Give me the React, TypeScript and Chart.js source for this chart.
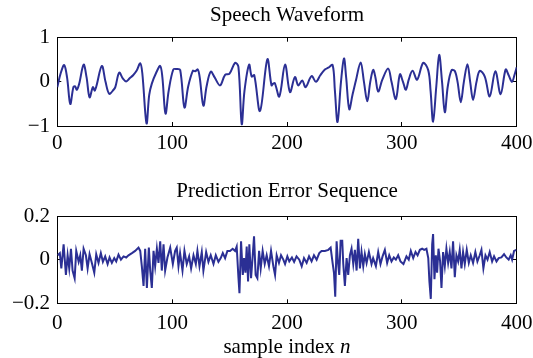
import React, { useEffect, useRef } from "react";
import { Chart, registerables } from "chart.js";
Chart.register(...registerables);

// ---- Data ----
const speechN = [0, 3, 6, 8.5, 11.3, 14, 15.5, 17, 19, 22.9, 25.5, 28.1, 31, 32.5, 34, 38.8, 42, 45.2, 49, 50.5, 53.9, 57, 60, 63, 66, 69, 72.2, 74, 77.7, 80, 82.3, 86, 89.6, 91.5, 94.2, 97, 101, 104, 107, 110.7, 114, 118, 120, 122.3, 124, 127.2, 130, 133.6, 137, 141.7, 146.1, 149.8, 154.8, 157.7, 160.6, 163, 167, 169.3, 171.5, 176.5, 182.9, 186.5, 188, 189.4, 193.3, 198.3, 202.6, 206.9, 209.8, 213.3, 216.2, 221.4, 225.2, 229, 233, 236, 239.7, 241.7, 244, 247, 249.6, 251.5, 254.2, 257, 260, 264.1, 267, 269.9, 272.5, 275, 277, 279.4, 283, 288.1, 291, 294.8, 298.3, 301, 303.5, 306, 309.3, 313.3, 318.6, 323, 325, 327.2, 330, 332.5, 335, 337.4, 340, 343.2, 346, 348.5, 351.3, 354, 357.1, 359.5, 362, 365, 367.8, 372.2, 376.5, 381.4, 386, 390.4, 393, 395.9, 398, 400];
const speechV = [-0.12, 0.2, 0.38, 0.1, -0.5, -0.12, -0.1, -0.18, -0.05, 0.39, 0.1, -0.35, -0.12, -0.2, -0.1, 0.36, 0.0, -0.27, -0.18, -0.12, 0.21, 0.08, 0.01, 0.08, 0.15, 0.25, 0.42, 0.2, -0.94, -0.3, -0.04, 0.2, 0.36, 0.1, -0.72, -0.2, 0.28, 0.29, 0.27, -0.58, -0.1, 0.25, 0.24, 0.28, 0.1, -0.54, -0.1, 0.23, 0.1, -0.08, 0.16, 0.18, 0.43, 0.34, -0.96, -0.2, 0.39, 0.12, 0.15, -0.66, 0.51, -0.08, -0.04, -0.03, -0.33, 0.39, -0.23, 0.11, -0.08, 0.03, -0.12, 0.13, 0.0, 0.15, 0.28, 0.32, 0.38, -0.2, -0.91, 0.0, 0.53, 0.1, -0.62, -0.3, 0.03, 0.44, 0.0, -0.44, 0.0, 0.27, 0.1, -0.22, 0.05, 0.3, 0.0, -0.39, 0.17, 0.0, -0.18, 0.05, 0.25, 0.05, 0.43, 0.26, -0.2, -0.9, -0.1, 0.61, 0.0, -0.69, -0.1, 0.26, 0.25, 0.0, -0.46, 0.0, 0.4, 0.0, -0.41, 0.0, 0.25, 0.12, -0.33, 0.24, -0.28, 0.28, 0.15, 0.0, 0.15, 0.33];

const errorN = [0.3, 2.2, 3.5, 5.5, 7.5, 9, 10.4, 11.9, 13.3, 15.1, 16.5, 18.6, 20, 21.4, 22.9, 24.9, 26.4, 28.1, 30.1, 32.2, 33.9, 35.9, 37.9, 39.7, 41.7, 43.8, 45.5, 47.5, 49.6, 51.3, 53.3, 55.4, 57.7, 60, 62, 65, 67.8, 70.7, 72.2, 73.6, 75.1, 76.5, 78, 79.7, 80.9, 82.3, 83.8, 85.2, 86.7, 88.1, 89.6, 91, 92.5, 93.9, 95.9, 98.3, 100.6, 102.6, 104, 105.5, 106.9, 109, 110.7, 112.7, 114.8, 116.5, 118.6, 120.6, 122, 123.8, 125.8, 127.2, 129.6, 131.6, 133.6, 136, 138, 140.3, 142.3, 144.1, 146.1, 148.1, 150.4, 152.7, 154.8, 156.2, 157.7, 158.6, 160, 161.5, 162.6, 163.8, 164.9, 166.1, 167.2, 168.7, 170.1, 171.3, 172.7, 174.2, 175.7, 177.1, 178.8, 180.6, 182.3, 184.3, 186.1, 188.1, 189.6, 191, 193, 194.8, 196.8, 198.3, 200.3, 202, 204.3, 206.2, 208.3, 210.7, 212.8, 214.8, 217.1, 219.2, 221.4, 223.5, 225.8, 228.1, 230.1, 233, 236, 238, 239.7, 240.9, 242, 243.2, 244.3, 245.5, 246.7, 248.1, 249, 250.4, 251.9, 253.3, 254.8, 256.2, 257.7, 259.1, 260.6, 262, 263.5, 264.9, 266.4, 267.8, 269.3, 271.3, 273.6, 275, 277.4, 279.4, 281.4, 283.2, 285.2, 287.2, 289, 291, 293, 294.8, 296.8, 298.8, 301.4, 304, 306, 307.8, 309.9, 311.9, 313.7, 315.7, 317.7, 319.4, 321.4, 323, 324, 325.2, 326.4, 327.2, 328.4, 329.6, 330.7, 331.9, 333.3, 334.5, 335.9, 337.4, 338.8, 340.3, 341.7, 343.2, 344.6, 346.1, 347.5, 349, 350.4, 351.9, 353.3, 354.8, 356.5, 358.3, 360, 362, 364, 365.8, 367.8, 369.3, 371, 372.8, 374.6, 376.5, 378.6, 380.3, 382.4, 384.3, 386.7, 389, 391, 393, 394.8, 396, 397.7, 399.7];
const errorV = [0.02, 0.03, -0.04, 0.07, -0.07, 0.02, -0.04, 0.05, -0.05, -0.085, 0.04, -0.01, 0.02, -0.05, 0.05, 0.02, -0.04, 0.025, -0.015, -0.06, 0.025, -0.015, 0.03, -0.01, 0.015, -0.02, 0.01, -0.015, 0.007, -0.008, 0.023, 0, 0.015, 0.01, 0.02, 0.03, 0.04, 0.055, 0.04, -0.03, -0.12, 0.05, -0.13, 0.055, -0.05, -0.13, 0.04, -0.03, 0.05, -0.015, 0.084, -0.05, 0.07, -0.05, 0.01, 0.055, -0.02, 0.04, 0.055, -0.03, 0.03, -0.05, 0.04, -0.02, 0.015, -0.04, 0.02, -0.02, 0.04, -0.03, 0.035, -0.05, 0.035, -0.01, 0.02, -0.02, 0.02, -0.01, 0.007, 0.03, 0.007, 0.04, 0.04, 0.05, 0.04, 0.06, -0.08, -0.154, 0.084, -0.07, 0.007, -0.06, 0.06, -0.1, 0.07, -0.085, 0.015, 0.107, -0.07, -0.085, 0.04, -0.04, 0.04, -0.02, 0.02, -0.03, 0.04, -0.03, -0.07, 0.02, -0.015, 0.02, 0, -0.02, 0.015, -0.008, 0.01, -0.01, 0.015, 0, -0.03, 0.007, -0.015, 0.015, -0.008, 0.02, 0, 0.03, 0.04, 0.04, 0.045, 0.055, -0.015, -0.06, -0.17, 0.084, -0.008, -0.07, 0.087, 0.087, -0.02, -0.12, 0.007, -0.07, 0.02, 0.05, -0.02, 0.045, -0.05, 0.096, -0.04, 0.035, -0.03, 0.025, -0.015, 0.035, -0.02, 0.007, -0.03, 0.035, -0.02, 0.015, 0.045, -0.015, 0.02, -0.008, 0.01, 0, 0.02, -0.008, -0.02, 0.015, 0, 0.04, 0.007, 0.035, 0.02, 0.045, 0.05, 0.045, 0.05, 0.007, -0.1, -0.18, 0.07, 0.117, -0.09, 0.02, -0.06, 0.05, -0.008, -0.13, 0.035, -0.03, 0.05, -0.015, 0.035, -0.04, 0.084, -0.08, 0.02, -0.008, 0.045, -0.04, 0.035, -0.02, 0.045, -0.015, 0.02, -0.015, 0.035, -0.008, 0.02, 0.045, -0.04, 0.02, 0, 0.035, -0.008, 0.015, -0.008, 0.007, 0.01, 0.025, 0.01, 0, 0.02, 0, 0.04, 0.045];

const xTickValues = [0, 100, 200, 300, 400];
const speechYTicks = [-1, 0, 1];
const errorYTicks = [-0.2, 0, 0.2];

const speechTitle = "Speech Waveform";
const errorTitle = "Prediction Error Sequence";
const xAxisLabel = "sample index ";
const xAxisVar = "n";

// ---- Styling ----
const LINE_COLOR = "#2b2f94";
const FONT = "'Liberation Serif', 'Times New Roman', serif";
const FS = 21;
const W = 533;

const fmt = (v: number) => (v < 0 ? "\u2212" + String(Math.abs(v)) : String(v));

type Spec = {
  n: number[];
  v: number[];
  yMin: number;
  yMax: number;
  yTicks: number[];
  title: string;
  height: number;
  areaTop: number;
  areaBottom: number;
  titlePadTop: number;
  xTickPad: number;
  tension: number;
  xLabel?: { text: string; italic: string; baseline: number };
};

function makeChart(canvas: HTMLCanvasElement, s: Spec) {
  const data = s.n.map((x, i) => ({ x, y: s.v[i] }));
  const lineH = FS * 1.2;
  const left = 57.3;
  const right = 516.7;
  const tickLen = -4;
  const grid = {
    drawOnChartArea: false,
    drawTicks: true,
    tickLength: tickLen,
    color: "#000",
    lineWidth: 1,
  };
  const border = { display: true, color: "#000", width: 1 };
  const tickFont = { family: FONT, size: FS, weight: "normal" as const };
  const setTicks = (vals: number[]) => (scale: any) => {
    scale.ticks = vals.map((value) => ({ value }));
  };
  const noPad = (scale: any) => {
    scale.paddingLeft = 0;
    scale.paddingRight = 0;
    scale.paddingTop = 0;
    scale.paddingBottom = 0;
  };

  const plugins: any[] = [];
  if (s.xLabel) {
    const xl = s.xLabel;
    plugins.push({
      id: "xlabel",
      afterDraw(chart: any) {
        const { ctx, chartArea } = chart;
        const cx = (chartArea.left + chartArea.right) / 2;
        ctx.save();
        ctx.fillStyle = "#000";
        ctx.textAlign = "left";
        ctx.textBaseline = "alphabetic";
        ctx.font = `${FS}px ${FONT}`;
        const wa = ctx.measureText(xl.text).width;
        ctx.font = `italic ${FS}px ${FONT}`;
        const wb = ctx.measureText(xl.italic).width;
        const x0 = cx - (wa + wb) / 2;
        ctx.font = `${FS}px ${FONT}`;
        ctx.fillText(xl.text, x0, xl.baseline);
        ctx.font = `italic ${FS}px ${FONT}`;
        ctx.fillText(xl.italic, x0 + wa, xl.baseline);
        ctx.restore();
      },
    });
  }

  return new Chart(canvas, {
    type: "line",
    data: {
      datasets: [
        {
          data,
          borderColor: LINE_COLOR,
          borderWidth: 2,
          pointRadius: 0,
          tension: s.tension,
          fill: false,
        },
      ],
    },
    options: {
      responsive: false,
      maintainAspectRatio: false,
      animation: false,
      devicePixelRatio: 1,
      parsing: false as any,
      layout: { padding: { left: 0, right: W - right, top: 0, bottom: 0 } },
      plugins: {
        legend: { display: false },
        tooltip: { enabled: false },
        title: {
          display: true,
          text: s.title,
          color: "#000",
          fullSize: false,
          font: { family: FONT, size: FS, weight: "normal", lineHeight: 1.2 },
          padding: { top: s.titlePadTop, bottom: s.areaTop - lineH - s.titlePadTop },
        },
      },
      scales: {
        x: {
          type: "linear",
          position: "bottom",
          min: 0,
          max: 400,
          afterBuildTicks: setTicks(xTickValues),
          afterFit: (scale: any) => {
            scale.height = s.height - s.areaBottom;
            noPad(scale);
          },
          ticks: {
            color: "#000",
            font: tickFont,
            padding: s.xTickPad,
            maxRotation: 0,
            autoSkip: false,
            callback: (v: any) => fmt(Number(v)),
          },
          grid,
          border,
        },
        x2: {
          type: "linear",
          axis: "x",
          position: "top",
          min: 0,
          max: 400,
          afterBuildTicks: setTicks(xTickValues),
          afterFit: (scale: any) => {
            scale.height = 0;
            noPad(scale);
          },
          ticks: { display: false },
          grid,
          border,
        },
        y: {
          type: "linear",
          position: "left",
          min: s.yMin,
          max: s.yMax,
          afterBuildTicks: setTicks(s.yTicks),
          afterFit: (scale: any) => {
            scale.width = left;
            noPad(scale);
          },
          ticks: {
            color: "#000",
            font: tickFont,
            padding: 11.3,
            callback: (v: any) => fmt(Number(v)),
          },
          grid,
          border,
        },
        y2: {
          type: "linear",
          axis: "y",
          position: "right",
          min: s.yMin,
          max: s.yMax,
          afterBuildTicks: setTicks(s.yTicks),
          afterFit: (scale: any) => {
            scale.width = 0;
            noPad(scale);
          },
          ticks: { display: false },
          grid,
          border,
        },
      },
    } as any,
    plugins,
  });
}

function Panel({ spec, top }: { spec: Spec; top: number }) {
  const ref = useRef<HTMLCanvasElement | null>(null);
  useEffect(() => {
    if (!ref.current) return;
    const chart = makeChart(ref.current, spec);
    return () => chart.destroy();
  }, [spec]);
  return (
    <canvas
      ref={ref}
      width={W}
      height={spec.height}
      style={{ position: "absolute", left: 0, top, display: "block" }}
    />
  );
}

const speechSpec: Spec = {
  n: speechN,
  v: speechV,
  yMin: -1,
  yMax: 1,
  yTicks: speechYTicks,
  title: speechTitle,
  height: 170,
  areaTop: 37.7,
  areaBottom: 126,
  titlePadTop: 3.1,
  xTickPad: 9.2,
  tension: 0.35,
};

const errorSpec: Spec = {
  n: errorN,
  v: errorV,
  yMin: -0.2,
  yMax: 0.2,
  yTicks: errorYTicks,
  title: errorTitle,
  height: 188,
  areaTop: 46,
  areaBottom: 133.3,
  titlePadTop: 8.7,
  xTickPad: 11.1,
  tension: 0,
  xLabel: { text: xAxisLabel, italic: xAxisVar, baseline: 183.3 },
};

export default function App() {
  return (
    <div style={{ position: "absolute", left: 0, top: 0, width: W, height: 358, background: "#fff" }}>
      <Panel spec={speechSpec} top={0} />
      <Panel spec={errorSpec} top={170} />
    </div>
  );
}
